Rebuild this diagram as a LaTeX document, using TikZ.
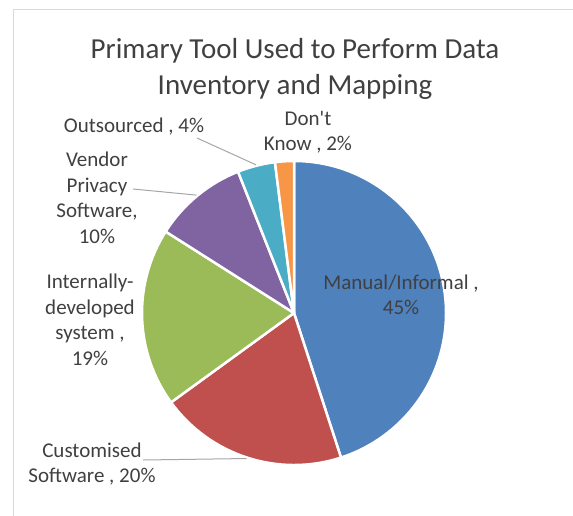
\documentclass[tikz,border=0pt]{standalone}
\usepackage{fontspec}
\setmainfont{Carlito}
\usepackage{tikz}
\usetikzlibrary{calc}

\definecolor{pieblue}{HTML}{4F81BD}
\definecolor{piered}{HTML}{C0504D}
\definecolor{piegreen}{HTML}{9BBB59}
\definecolor{piepurple}{HTML}{8064A2}
\definecolor{pieaqua}{HTML}{4BACC6}
\definecolor{pieorange}{HTML}{F79646}
\definecolor{textgray}{HTML}{404040}
\definecolor{framegray}{HTML}{D9D9D9}
\definecolor{leadgray}{HTML}{A6A6A6}

\begin{document}
\begin{tikzpicture}[x=1pt, y=1pt,
        slice/.style={draw=white, line width=2.5pt, line join=round},
        lbl/.style={text=textgray, align=center, inner sep=0pt, font=\fontsize{21}{25.5}\selectfont},
        leader/.style={draw=leadgray, line width=1pt}]
    \useasboundingbox (0,0) rectangle (573,-515);
    \draw[framegray, line width=1pt] (13,-520) -- (13,-9) -- (580,-9);

    % pie, clockwise from the top
    \coordinate (pc) at (294,-313);
    \foreach \a/\b/\c in {90/-72/pieblue, -72/-144/piered, -144/-212.4/piegreen,
            -212.4/-248.4/piepurple, -248.4/-262.8/pieaqua, -262.8/-270/pieorange}
        \filldraw[slice, fill=\c] (pc) -- ($(pc)+(\a:152)$) arc[start angle=\a, end angle=\b, radius=152pt] -- cycle;

    \node[lbl, font=\fontsize{29}{36}\selectfont] (title) at (295,-69) {Primary Tool Used to Perform Data\\Inventory and Mapping};

    \node[lbl] (manual) at (401,-295) {Manual/Informal ,\\45\%};
    \node[lbl] (custom) at (92,-464) {Customised\\Software , 20\%};
    \node[lbl] (internal) at (90,-320) {Internally-\\developed\\system ,\\19\%};
    \node[lbl] (vendor) at (97,-198) {Vendor\\Privacy\\Software,\\10\%};
    \node[lbl] (outsrc) at (134,-127) {Outsourced , 4\%};
    \node[lbl] (dontknow) at (308,-132) {Don\textquotesingle t\\Know , 2\%};

    % leader lines
    \coordinate (customend) at ($(pc)+(-108:153)$);
    \coordinate (vendorend) at ($(pc)+(129.6:153)$);
    \coordinate (outsrcend) at ($(pc)+(104.4:153)$);
    \draw[leader] ($(custom.center)+(51,4)$) -- (customend);
    \draw[leader] ($(vendor.center)+(36,9)$) -- (vendorend);
    \draw[leader] ($(outsrc.center)+(63,-11)$) -- (outsrcend);
\end{tikzpicture}
\end{document}
